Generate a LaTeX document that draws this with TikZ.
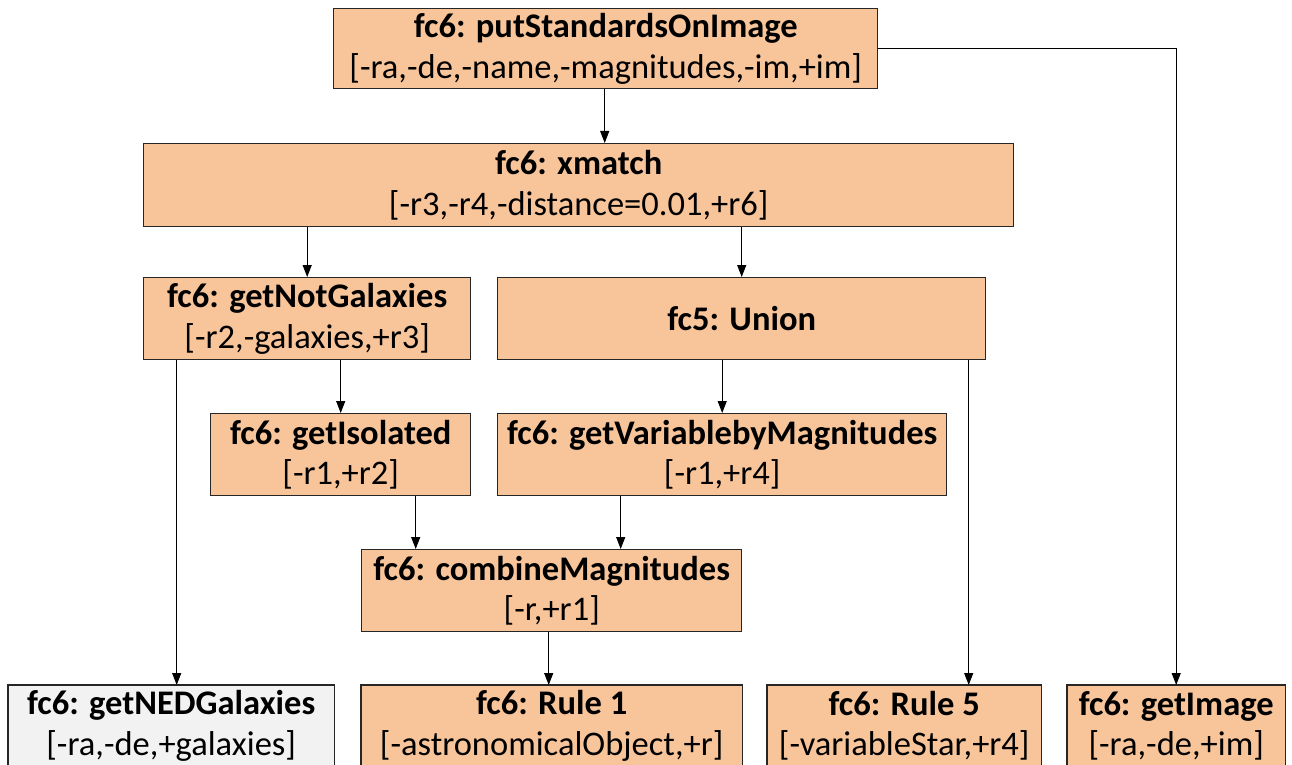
\documentclass[tikz,border=0pt]{standalone}
\usepackage{fontspec}
\setmainfont{Carlito}
\usetikzlibrary{arrows.meta}
\definecolor{peach}{RGB}{248,197,155}
\definecolor{paleg}{RGB}{242,242,242}
\definecolor{edge}{RGB}{38,38,38}
\newcommand\fnlabel[2]{\textbf{#1}\\{}#2}
\begin{document}
\begin{tikzpicture}[x=1pt,y=1pt,
  box/.style={draw=edge,line width=1.4pt,fill=peach,anchor=north west,
    inner sep=0pt,align=center,font=\fontsize{34.5}{40.5}\selectfont},
  greybox/.style={box,fill=paleg},
  openbox/.style={draw=none},
  arr/.style={line width=1.1pt,-{Triangle[length=12pt,width=9pt]}}]
\useasboundingbox (0,0) rectangle (1292,-765);
\clip (0,0) rectangle (1292,-765);

% operator boxes (x, -y of the top left corner)
\node[box,minimum width=544,minimum height=80] (A) at (333,-8)
  {\fnlabel{fc6: putStandardsOnImage}{[-ra,-de,-name,-magnitudes,-im,+im]}};
\node[box,minimum width=870,minimum height=83] (B) at (143,-143)
  {\fnlabel{fc6: xmatch}{[-r3,-r4,-distance=0.01,+r6]}};
\node[box,minimum width=327,minimum height=82] (C) at (143,-277)
  {\fnlabel{fc6: getNotGalaxies}{[-r2,-galaxies,+r3]}};
\node[box,minimum width=488,minimum height=82] (D) at (497,-277)
  {\textbf{fc5: Union}};
\node[box,minimum width=260,minimum height=82] (E) at (210,-413)
  {\fnlabel{fc6: getIsolated}{[-r1,+r2]}};
\node[box,minimum width=449,minimum height=82] (F) at (497,-413)
  {\fnlabel{fc6: getVariablebyMagnitudes}{[-r1,+r4]}};
\node[box,minimum width=380,minimum height=82] (G) at (361,-549)
  {\fnlabel{fc6: combineMagnitudes}{[-r,+r1]}};

% bottom row: boxes run past the lower edge, so only three sides show
\node[greybox,openbox,minimum width=325,minimum height=80] (H) at (8,-685)
  {\fnlabel{fc6: getNEDGalaxies}{[-ra,-de,+galaxies]}};
\node[box,openbox,minimum width=380,minimum height=80] (I) at (361,-685)
  {\fnlabel{fc6: Rule 1}{[-astronomicalObject,+r]}};
\node[box,openbox,minimum width=273,minimum height=80] (J) at (767,-685)
  {\fnlabel{fc6: Rule 5}{[-variableStar,+r4]}};
\node[box,openbox,minimum width=217,minimum height=80] (K) at (1067,-685)
  {\fnlabel{fc6: getImage}{[-ra,-de,+im]}};
\foreach \n in {H,I,J,K}
  \draw[draw=edge,line width=1.4pt]
    ([yshift=-6pt]\n.south west) -- (\n.north west) -- (\n.north east) -- ([yshift=-6pt]\n.south east);

% data flow
\draw[arr] ([xshift=-1pt]A.south) -- ([xshift=-1pt]A.south |- B.north);
\draw[arr] (A.east) -| (K.north);
\draw[arr] (C.north |- B.south) -- (C.north);
\draw[arr] (D.north |- B.south) -- (D.north);
\draw[arr] ([xshift=5.5pt]H.north |- C.south) -- ([xshift=5.5pt]H.north);
\draw[arr] (E.north |- C.south) -- (E.north);
\draw[arr] (F.north |- D.south) -- (F.north);
\draw[arr] ([xshift=64.5pt]J.north |- D.south) -- ([xshift=64.5pt]J.north);
\draw[arr] ([xshift=75pt]E.south) -- ([xshift=75pt]E.south |- G.north);
\draw[arr] ([xshift=-101.5pt]F.south) -- ([xshift=-101.5pt]F.south |- G.north);
\draw[arr] ([xshift=-3pt]G.south) -- ([xshift=-3pt]G.south |- I.north);
\end{tikzpicture}
\end{document}
